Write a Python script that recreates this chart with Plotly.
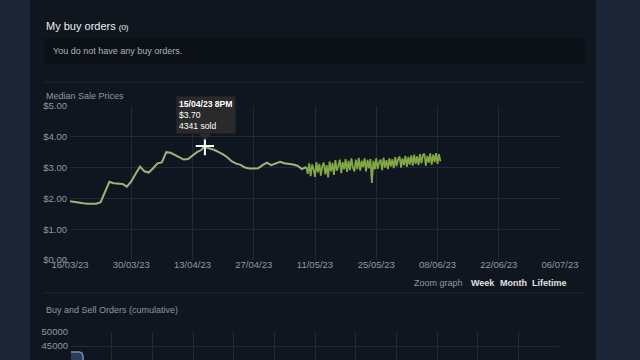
import pandas as pd
import plotly.graph_objects as go

# ---------------- data ----------------
daily_start = "2023-03-16"
daily_prices = [1.91, 1.88, 1.86, 1.84, 1.83, 1.83, 1.83, 1.88, 2.20, 2.54,
                2.49, 2.48, 2.47, 2.38, 2.55, 2.80, 3.03, 2.88, 2.84, 2.98,
                3.14, 3.17, 3.50, 3.48, 3.40, 3.33, 3.26, 3.28, 3.40, 3.50,
                3.57, 3.66, 3.62, 3.57, 3.50, 3.43, 3.33, 3.20, 3.13, 3.09,
                3.00, 2.97, 2.97, 2.98, 3.08, 3.16, 3.08, 3.13, 3.19, 3.14,
                3.13, 3.10, 3.06, 2.95]
hover_date = "2023-04-15 20:00"
hover_price = 3.70
hover_sold = 4341

hourly_start = "2023-05-09 00:00"
hourly_prices = [
    3.02, 2.80, 3.14, 2.72, 3.10, 2.95, 2.70, 3.18, 2.85, 3.12, 2.74, 3.05, 3.16, 2.78, 3.08,
    2.68, 3.20, 2.88, 3.15, 2.76, 3.24, 2.90, 3.05, 3.26, 2.82, 3.18, 2.94, 3.28, 2.86, 3.22,
    2.92, 3.30, 3.00, 2.88, 3.26, 2.95, 3.32, 2.90, 3.22, 3.02, 3.30, 2.88, 3.25, 2.98, 3.28,
    2.50, 3.22, 2.94, 3.30, 2.96, 3.18, 3.26, 2.92, 3.32, 3.00, 3.24, 2.95, 3.30, 3.04, 3.27,
    2.98, 3.34, 3.05, 3.28, 3.36, 3.00, 3.30, 3.08, 3.38, 3.02, 3.35, 3.10, 3.40, 3.06, 3.42,
    3.12, 3.36, 3.08, 3.44, 3.14, 3.40, 3.45, 3.06, 3.38, 3.16, 3.46, 3.10, 3.42, 3.18, 3.47,
    3.12, 3.44, 3.20,
]

x_tick_dates = ["2023-03-16", "2023-03-30", "2023-04-13", "2023-04-27", "2023-05-11",
                "2023-05-25", "2023-06-08", "2023-06-22", "2023-07-06"]
x_tick_labels = ["16/03/23", "30/03/23", "13/04/23", "27/04/23", "11/05/23",
                 "25/05/23", "08/06/23", "22/06/23", "06/07/23"]
y_ticks = [0, 1, 2, 3, 4, 5]
y_tick_labels = ["$0.00", "$1.00", "$2.00", "$3.00", "$4.00", "$5.00"]

orders_x = [0.0, 0.2, 0.27, 0.3, 0.3]
orders_y = [42900, 42900, 42500, 41000, 40000]
orders_y_ticks = [40000, 45000, 50000]

# ---------------- build ----------------
daily_dates = pd.date_range(daily_start, periods=len(daily_prices), freq="D")
d_df = pd.DataFrame({"date": daily_dates, "price": daily_prices})
d_df = pd.concat([d_df, pd.DataFrame({"date": [pd.Timestamp(hover_date)], "price": [hover_price]})])
d_df = d_df.sort_values("date")
hourly_dates = pd.date_range(hourly_start, periods=len(hourly_prices), freq="8h")

W, H = 640, 360
def px(x): return x / W
def py(y): return 1 - y / H

OUTER = "#1b2536"
PANEL = "#10161f"
BOX = "#0c1118"
GRID = "#212a37"
TICK = "#8f98a0"
FONT = "Arial, Liberation Sans, sans-serif"

fig = go.Figure()
fig.add_trace(go.Scatter(
    x=list(d_df["date"]) + [hourly_dates[0]],
    y=list(d_df["price"]) + [hourly_prices[0]],
    mode="lines", line=dict(color="#a0b479", width=2), hoverinfo="skip",
    xaxis="x", yaxis="y"))
fig.add_trace(go.Scatter(
    x=hourly_dates, y=hourly_prices, mode="lines",
    line=dict(color="#82a845", width=1.8), hoverinfo="skip", xaxis="x", yaxis="y"))
fig.add_trace(go.Scatter(
    x=[pd.Timestamp(hover_date)], y=[hover_price], mode="markers",
    marker=dict(symbol="cross-thin", size=13, line=dict(color="#ffffff", width=2)),
    hoverinfo="skip", xaxis="x", yaxis="y"))

fig.add_trace(go.Scatter(
    x=orders_x, y=orders_y, mode="lines", fill="tozeroy",
    fillcolor="#2b3c57", line=dict(color="#6f8db5", width=1.5),
    hoverinfo="skip", xaxis="x2", yaxis="y2"))

shapes = [
    dict(type="rect", xref="paper", yref="paper", x0=px(30), x1=px(596), y0=0, y1=1,
         fillcolor=PANEL, line=dict(width=0), layer="below"),
    dict(type="rect", xref="paper", yref="paper", x0=px(44), x1=px(585), y0=py(64), y1=py(38),
         fillcolor=BOX, line=dict(width=0), layer="below"),
    dict(type="line", xref="paper", yref="paper", x0=px(44), x1=px(585), y0=py(82), y1=py(82),
         line=dict(color="#1e2632", width=1), layer="below"),
    dict(type="line", xref="paper", yref="paper", x0=px(44), x1=px(585), y0=py(293), y1=py(293),
         line=dict(color="#1e2632", width=1), layer="below"),
    dict(type="path", xref="paper", yref="paper",
         path=f"M {px(199)} {py(134)} L {px(211)} {py(134)} L {px(205)} {py(140)} Z",
         fillcolor="#2a2a2a", line=dict(width=0)),
]

def label(text, x, y, size=9, color=TICK, anchor="left"):
    return dict(text=text, x=px(x), y=py(y), xref="paper", yref="paper",
                xanchor=anchor, yanchor="middle", showarrow=False,
                font=dict(size=size, color=color))

annotations = [
    label("My buy orders <span style='font-size:8px'>(0)</span>", 44, 26, 11, "#eeeeee"),
    label("You do not have any buy orders.", 51, 51, 9, "#acb2b8"),
    label("Median Sale Prices", 44, 96),
    label("Zoom graph", 465, 283, anchor="right"),
    label("<b>Week</b>", 469, 283, color="#e0e0e0"),
    label("<b>Month</b>", 498, 283, color="#e0e0e0"),
    label("<b>Lifetime</b>", 530, 283, color="#e0e0e0"),
    label("Buy and Sell Orders (cumulative)", 44, 310),
    dict(text=f"<b>{pd.Timestamp(hover_date).strftime('%d/%m/%y')} 8PM</b><br>${hover_price:.2f}<br>{hover_sold} sold",
         x=pd.Timestamp(hover_date), y=hover_price, xref="x", yref="y",
         xanchor="left", yanchor="bottom", xshift=-29, yshift=12, showarrow=False,
         align="left", bgcolor="#2a2a2a", borderpad=2,
         font=dict(size=8.6, color="#ffffff")),
]

common = dict(showgrid=True, gridcolor=GRID, gridwidth=1, zeroline=False,
              showline=False, ticks="", automargin=False, fixedrange=True)

fig.update_layout(
    width=W, height=H, autosize=False,
    margin=dict(l=0, r=0, t=0, b=0, pad=0, autoexpand=False),
    paper_bgcolor=OUTER, plot_bgcolor="rgba(0,0,0,0)",
    font=dict(family=FONT, color=TICK, size=9),
    showlegend=False,
    shapes=shapes, annotations=annotations,
    xaxis=dict(domain=[px(70), px(560)], type="date",
               range=["2023-03-16", "2023-07-06"],
               tickvals=x_tick_dates, ticktext=x_tick_labels, ticklabelstandoff=-3,
               tickfont=dict(size=9.5, color=TICK), anchor="y", **common),
    yaxis=dict(domain=[py(260), py(106)], range=[0, 5], tickvals=y_ticks,
               ticktext=y_tick_labels, ticklabelstandoff=2,
               tickfont=dict(size=9.5, color=TICK), anchor="x", **common),
    xaxis2=dict(domain=[px(71), px(559)], range=[0, 12], dtick=1,
                showticklabels=False, anchor="y2", **common),
    yaxis2=dict(domain=[0, py(332)], range=[40000, 50000], tickvals=orders_y_ticks,
                tickformat="d", ticklabelstandoff=2,
                tickfont=dict(size=9.5, color=TICK), anchor="x2", **common),
)

fig.write_html("out.html", config={"displayModeBar": False},
               post_script="document.body.style.margin='0';document.body.style.background='" + OUTER + "';")
